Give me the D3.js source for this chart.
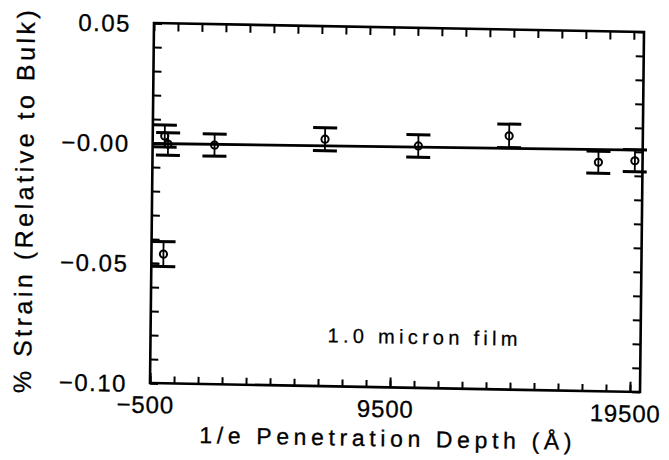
<!DOCTYPE html>
<html>
<head>
<meta charset="utf-8">
<script src="https://cdn.jsdelivr.net/npm/d3@7"></script>
<style>
  html, body { margin: 0; padding: 0; background: #fff; }
  svg { display: block; }
</style>
</head>
<body>
<svg id="chart" width="669" height="460"></svg>
<script>
// ---- data ----
const depth     = [0, 140, 0, 2080, 6680, 10570, 14350, 18080, 19600];
const strain    = [0.0030, -0.0003, -0.0462, -0.0004, 0.0029, 0.0008, 0.0057, -0.0046, -0.0037];
const strainErr = [0.0046, 0.0047, 0.0052, 0.0046, 0.0048, 0.0047, 0.0049, 0.0046, 0.0046];
const fitDepth  = [-500, 19920];
const fitStrain = [-0.0002, 0.0008];
const xTickValues = [-500, 9500, 19500];
const xTickLabels = ["\u2212500", "9500", "19500"];
const yTickValues = [0.05, 0.00, -0.05, -0.10];
const yTickLabels = ["0.05", "\u22120.00", "\u22120.05", "\u22120.10"];
const xMinorTicks = d3.range(-500, 19501, 1000);
const yMinorTicks = d3.range(-10, 6, 1).map(d => d / 100);
const xTitle = "1/e Penetration Depth (\u00C5)";
const yTitle = "% Strain (Relative to Bulk)";
const note = "1.0 micron film";

// ---- layout ----
const W = 490, H = 360;
const FONT = "'Liberation Sans', Arial, sans-serif";
const svg = d3.select("#chart");
svg.append("rect").attr("width", 669).attr("height", 460).attr("fill", "#fff");

// the scanned figure is slightly rotated; reproduce with an affine frame
const g = svg.append("g").attr("transform", "matrix(1,0.0184,-0.0111,1,154,23)");

const x = d3.scaleLinear().domain([-500, 19920]).range([0, W]);
const y = d3.scaleLinear().domain([-0.10, 0.05]).range([H, 0]);

function styleAxis(sel, sw) {
  sel.select(".domain").remove();
  sel.selectAll(".tick line").attr("stroke", "#000").attr("stroke-width", sw);
}

// minor ticks (inward)
g.append("g").attr("transform", `translate(0,${H})`)
  .call(d3.axisBottom(x).tickValues(xMinorTicks).tickSize(-7).tickFormat(""))
  .call(s => styleAxis(s, 2));
g.append("g")
  .call(d3.axisTop(x).tickValues(xMinorTicks).tickSize(-8).tickFormat(""))
  .call(s => styleAxis(s, 2));
g.append("g")
  .call(d3.axisLeft(y).tickValues(yMinorTicks).tickSize(-8).tickFormat(""))
  .call(s => styleAxis(s, 2));
g.append("g").attr("transform", `translate(${W},0)`)
  .call(d3.axisRight(y).tickValues(yMinorTicks).tickSize(-8).tickFormat(""))
  .call(s => styleAxis(s, 2));

// major ticks with labels
const xb = g.append("g").attr("transform", `translate(0,${H})`)
  .call(d3.axisBottom(x).tickValues(xTickValues).tickSize(-10).tickPadding(13)
        .tickFormat((d, i) => xTickLabels[i]))
  .call(s => styleAxis(s, 2));
xb.selectAll("text").attr("font-family", FONT).attr("font-size", 24)
  .attr("fill", "#000").attr("dx", -5).attr("letter-spacing", 0.8)
  .attr("stroke", "#000").attr("stroke-width", 0.3);

const yl = g.append("g")
  .call(d3.axisLeft(y).tickValues(yTickValues).tickSize(-8).tickPadding(23)
        .tickFormat((d, i) => yTickLabels[i]))
  .call(s => styleAxis(s, 2));
yl.selectAll("text").attr("font-family", FONT).attr("font-size", 24)
  .attr("fill", "#000").attr("letter-spacing", 1.5).attr("dy", "0.36em")
  .attr("stroke", "#000").attr("stroke-width", 0.3);

// frame
g.append("rect").attr("x", 0).attr("y", 0).attr("width", W).attr("height", H)
  .attr("fill", "none").attr("stroke", "#000").attr("stroke-width", 2.6);

// fit line
const line = d3.line().x(d => x(d[0])).y(d => y(d[1]));
g.append("path").datum(fitDepth.map((d, i) => [d, fitStrain[i]]))
  .attr("d", line).attr("fill", "none").attr("stroke", "#000").attr("stroke-width", 2.8);

// error bars + points
const pts = depth.map((d, i) => ({ x: d, y: strain[i], e: strainErr[i] }));
const pg = g.append("g").selectAll("g").data(pts).join("g");
pg.append("line")
  .attr("x1", d => x(d.x)).attr("x2", d => x(d.x))
  .attr("y1", d => y(d.y + d.e)).attr("y2", d => y(d.y - d.e))
  .attr("stroke", "#000").attr("stroke-width", 1.8);
[1, -1].forEach(s => {
  pg.append("line")
    .attr("x1", d => x(d.x) - 12).attr("x2", d => x(d.x) + 12)
    .attr("y1", d => y(d.y + s * d.e)).attr("y2", d => y(d.y + s * d.e))
    .attr("stroke", "#000").attr("stroke-width", 3);
});
pg.append("circle")
  .attr("cx", d => x(d.x)).attr("cy", d => y(d.y)).attr("r", 3.6)
  .attr("fill", "none").attr("stroke", "#000").attr("stroke-width", 2);

// annotation
g.append("text").attr("x", 272).attr("y", 316)
  .attr("text-anchor", "middle").attr("font-family", FONT).attr("font-size", 20)
  .attr("textLength", 190).attr("lengthAdjust", "spacing")
  .attr("stroke", "#000").attr("stroke-width", 0.25)
  .text(note);

// axis titles
g.append("text").attr("x", 236).attr("y", 419)
  .attr("text-anchor", "middle").attr("font-family", FONT).attr("font-size", 23)
  .attr("textLength", 372).attr("lengthAdjust", "spacing")
  .attr("stroke", "#000").attr("stroke-width", 0.3)
  .text(xTitle);

g.append("text")
  .attr("transform", "translate(-119,181) rotate(-90)")
  .attr("text-anchor", "middle").attr("font-family", FONT).attr("font-size", 25)
  .attr("textLength", 383).attr("lengthAdjust", "spacing")
  .attr("stroke", "#000").attr("stroke-width", 0.3)
  .text(yTitle);
</script>
</body>
</html>
